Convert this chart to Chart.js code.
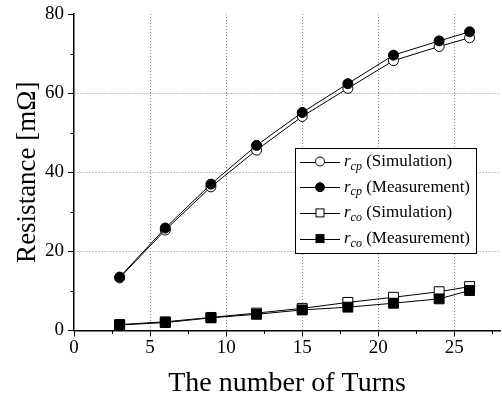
<!DOCTYPE html>
<html>
<head>
<meta charset="utf-8">
<script src="https://cdn.jsdelivr.net/npm/chart.js@4/dist/chart.umd.min.js"></script>
<style>
  html, body { margin: 0; padding: 0; background: #fff; }
  #wrap { width: 502px; height: 401px; position: relative; }
</style>
</head>
<body>
<div id="wrap"><canvas id="c"></canvas></div>
<script>
// Number of turns (x values)
const turns = [3, 6, 9, 12, 15, 18, 21, 24, 26];
// Resistance in mΩ
const rcpSimulation  = [13.3, 25.4, 36.3, 45.6, 54.1, 61.2, 68.2, 71.8, 74.0];
const rcpMeasurement = [13.5, 25.9, 37.0, 46.8, 55.1, 62.4, 69.6, 73.2, 75.5];
const rcoSimulation  = [1.5, 2.2, 3.3, 4.4, 5.6, 7.1, 8.4, 9.8, 11.1];
const rcoMeasurement = [1.4, 2.0, 3.2, 4.1, 5.2, 5.9, 6.9, 8.0, 10.1];

// Legend entries: subscript and suffix
const legendSubs = ['cp', 'cp', 'co', 'co'];
const legendNames = ['(Simulation)', '(Measurement)', '(Simulation)', '(Measurement)'];

const xMajor = [0, 5, 10, 15, 20, 25];
const xMinor = [2.5, 7.5, 12.5, 17.5, 22.5, 27.5];
const yMinor = [10, 30, 50, 70];

const SERIF = '"Liberation Serif", "Times New Roman", serif';

function pts(ys) { return turns.map((t, i) => ({ x: t, y: ys[i] })); }

function series(ys, style, filled, radius, order) {
  return {
    data: pts(ys),
    borderColor: '#000',
    borderWidth: 1,
    pointStyle: style,
    pointRadius: radius,
    pointHoverRadius: radius,
    pointBorderWidth: 1,
    pointBorderColor: '#000',
    pointBackgroundColor: filled ? '#000' : '#fff',
    tension: 0,
    order: order
  };
}

// Minor tick marks on both axes
const minorTicks = {
  id: 'minorTicks',
  afterDraw(chart) {
    const { ctx, chartArea: ca, scales: { x, y } } = chart;
    ctx.save();
    ctx.strokeStyle = '#000';
    ctx.lineWidth = 1;
    ctx.beginPath();
    xMinor.forEach(v => {
      const px = Math.round(x.getPixelForValue(v)) + 0.5;
      ctx.moveTo(px, ca.bottom);
      ctx.lineTo(px, ca.bottom + 3.5);
    });
    yMinor.forEach(v => {
      const py = Math.round(y.getPixelForValue(v)) + 0.5;
      ctx.moveTo(ca.left, py);
      ctx.lineTo(ca.left - 3.5, py);
    });
    ctx.stroke();
    ctx.restore();
  }
};

// Boxed legend with italic subscripted symbols
const boxLegend = {
  id: 'boxLegend',
  afterDraw(chart) {
    const { ctx, chartArea: ca } = chart;
    const bx = ca.right - 205, by = ca.top + 134, bw = 181, bh = 105;
    ctx.save();
    ctx.fillStyle = '#fff';
    ctx.fillRect(bx, by, bw, bh);
    ctx.strokeStyle = '#000';
    ctx.lineWidth = 1;
    ctx.strokeRect(bx + 0.5, by + 0.5, bw, bh);

    const ds = chart.data.datasets;
    ds.forEach((d, row) => {
      const yc = by + 13.5 + row * 25.7;
      const x0 = bx + 5, x1 = bx + 45, xm = bx + 25;
      ctx.strokeStyle = '#000';
      ctx.lineWidth = 1;
      ctx.beginPath();
      ctx.moveTo(x0, Math.round(yc) + 0.5);
      ctx.lineTo(x1, Math.round(yc) + 0.5);
      ctx.stroke();
      ctx.fillStyle = d.pointBackgroundColor;
      if (d.pointStyle === 'circle') {
        ctx.beginPath();
        ctx.arc(xm, yc, 4.5, 0, Math.PI * 2);
        ctx.fill();
        ctx.stroke();
      } else {
        ctx.fillRect(xm - 4, yc - 4, 8, 8);
        ctx.strokeRect(xm - 4, yc - 4, 8, 8);
      }
      ctx.fillStyle = '#000';
      ctx.textBaseline = 'middle';
      ctx.textAlign = 'left';
      let tx = bx + 49;
      ctx.font = 'italic 17px ' + SERIF;
      ctx.fillText('r', tx, yc);
      tx += ctx.measureText('r').width;
      ctx.font = 'italic 12px ' + SERIF;
      ctx.fillText(legendSubs[row], tx, yc + 5);
      tx += ctx.measureText(legendSubs[row]).width;
      ctx.font = '17px ' + SERIF;
      ctx.fillText(' ' + legendNames[row], tx, yc);
    });
    ctx.restore();
  }
};

new Chart(document.getElementById('c'), {
  type: 'line',
  data: {
    datasets: [
      series(rcpSimulation, 'circle', false, 5, 4),
      series(rcpMeasurement, 'circle', true, 5, 3),
      series(rcoSimulation, 'rect', false, 7, 2),
      series(rcoMeasurement, 'rect', true, 7, 1)
    ]
  },
  options: {
    responsive: true,
    maintainAspectRatio: false,
    animation: false,
    devicePixelRatio: 1,
    layout: { autoPadding: false, padding: { top: 14, right: 2, left: 0, bottom: 0 } },
    plugins: { legend: { display: false }, tooltip: { enabled: false } },
    scales: {
      x: {
        type: 'linear',
        min: 0,
        max: 28,
        afterBuildTicks(scale) {
          scale.ticks = xMajor.map(v => ({ value: v }));
        },
        afterFit(scale) { scale.height = 70.5; },
        ticks: {
          stepSize: 5,
          color: '#000',
          padding: 2,
          maxRotation: 0,
          font: { family: SERIF, size: 19, lineHeight: 1 }
        },
        grid: {
          color: c => (c.tick && c.tick.value === 0) ? 'rgba(0,0,0,0)' : '#8c8c8c',
          lineWidth: 1,
          tickColor: '#000',
          tickLength: 6,
          tickWidth: 1,
          tickBorderDash: []
        },
        border: { color: '#000', width: 1.5, dash: [1, 2] },
        title: {
          display: true,
          text: 'The number of Turns',
          color: '#000',
          font: { family: SERIF, size: 28, lineHeight: 1 },
          padding: { top: 0, bottom: 3 }
        }
      },
      y: {
        min: 0,
        max: 80,
        afterFit(scale) { scale.width = 74; },
        ticks: {
          stepSize: 20,
          color: '#000',
          padding: 4,
          font: { family: SERIF, size: 19, lineHeight: 1 }
        },
        grid: {
          color: c => (c.tick && (c.tick.value === 0 || c.tick.value === 80)) ? 'rgba(0,0,0,0)' : '#8c8c8c',
          lineWidth: 1,
          tickColor: '#000',
          tickLength: 6,
          tickWidth: 1,
          tickBorderDash: []
        },
        border: { color: '#000', width: 1.5, dash: [1, 2] },
        title: {
          display: true,
          text: 'Resistance [mΩ]',
          color: '#000',
          font: { family: SERIF, size: 27, lineHeight: 1 },
          padding: { top: 14, bottom: 0 }
        }
      }
    }
  },
  plugins: [minorTicks, boxLegend]
});
</script>
</body>
</html>
